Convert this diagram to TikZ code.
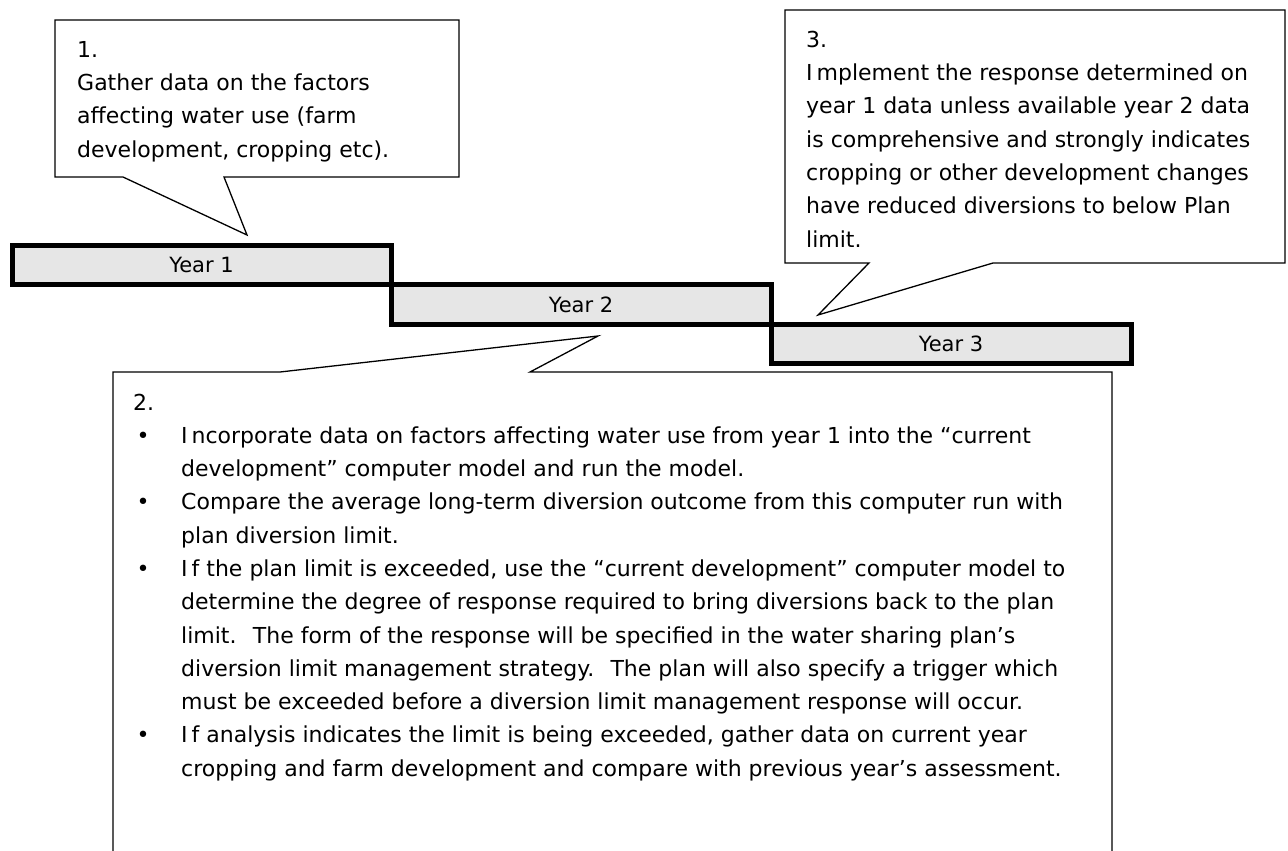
\documentclass[tikz,border=0pt]{standalone}
\usepackage{fontspec}
\setmainfont{DejaVu Sans}
\definecolor{barfill}{HTML}{E6E6E6}
\begin{document}
\begin{tikzpicture}[x=1pt,y=-1pt,
  callout/.style={draw=black,line width=1.3pt,fill=white,line join=miter},
  yearbar/.style={draw=black,line width=5pt,fill=barfill},
  txt/.style={anchor=north west,inner sep=0pt,align=left,font=\fontsize{22}{33.3}\selectfont},
  yearlabel/.style={inner sep=0pt,font=\fontsize{21}{25}\selectfont},
  bul/.style={anchor=north,inner sep=0pt,font=\fontsize{22}{33.3}\selectfont}]
\useasboundingbox (0,0) rectangle (1288,851);
% callout 1
\draw[callout] (55,20) -- (459,20) -- (459,177) -- (224,177) -- (247,235) -- (123,177) -- (55,177) -- cycle;
\node[txt] (t1) at (77,33.7) {\strut 1.\\Gather data on the factors\\affecting water use (farm\\development, cropping etc).};
% callout 3
\draw[callout] (785,10) -- (1285,10) -- (1285,263) -- (993,263) -- (818,315) -- (869,263) -- (785,263) -- cycle;
\node[txt] (t3) at (806,23.7) {\strut 3.\\I\kern4pt mplement the response determined on\\year 1 data unless available year 2 data\\is comprehensive and strongly indicates\\cropping or other development changes\\have reduced diversions to below Plan\\limit.};
% callout 2
\draw[callout] (113,853) -- (113,372) -- (280,372) -- (598,336) -- (530,372) -- (1112,372) -- (1112,853);
% year bars
\draw[yearbar] (12,245) rectangle (391,284);
\draw[yearbar] (391,284) rectangle (771,324);
\draw[yearbar] (771,324) rectangle (1131,363);
\node[yearlabel] (y1) at (201.5,265) {Year 1};
\node[yearlabel] (y2) at (581,304.5) {Year 2};
\node[yearlabel] (y3) at (951,344) {Year 3};
% box 2 text
\node[txt] (t2) at (133,386.7) {\strut 2.};
\node[txt] (t2b) at (181,419.7) {\strut I\kern4pt ncorporate data on factors affecting water use from year 1 into the “current\\development” computer model and run the model.\\Compare the average long-term diversion outcome from this computer run with\\plan diversion limit.\\I\kern4pt f the plan limit is exceeded, use the “current development” computer model to\\determine the degree of response required to bring diversions back to the plan\\limit.~ The form of the response will be specified in the water sharing plan's\\diversion limit management strategy.~ The plan will also specify a trigger which\\must be exceeded before a diversion limit management response will occur.\\I\kern4pt f analysis indicates the limit is being exceeded, gather data on current year\\cropping and farm development and compare with previous year’s assessment.};
\node[bul] (b1) at (143,419.7) {\strut •};
\node[bul] (b2) at (143,486.3) {\strut •};
\node[bul] (b3) at (143,552.9) {\strut •};
\node[bul] (b4) at (143,719.4) {\strut •};
\end{tikzpicture}
\end{document}
